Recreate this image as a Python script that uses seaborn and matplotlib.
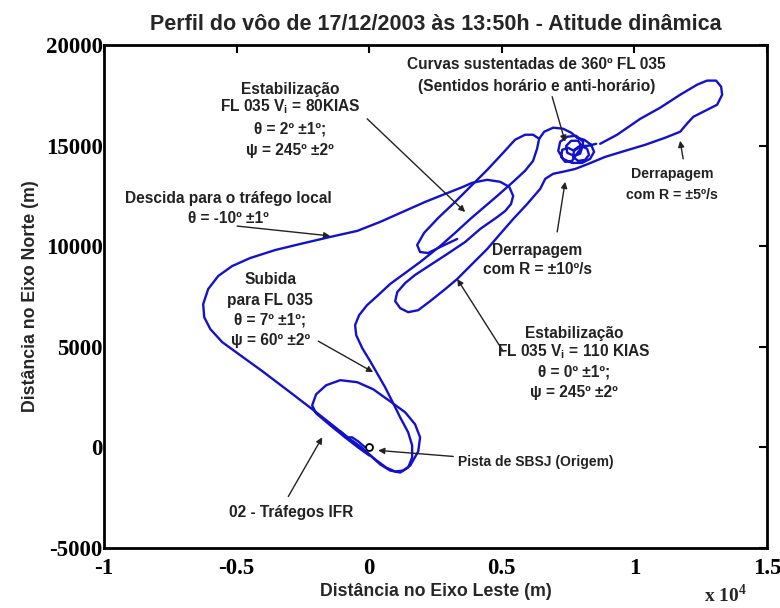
import matplotlib
matplotlib.use("Agg")
import matplotlib.pyplot as plt
import numpy as np
import pandas as pd
import seaborn as sns

# ---------------- data (metres, East / North) ----------------
# takeoff, climb to FL035 and arrival at the 360-degree turns area
subida_e = [-1090, -720, -340, 40, 420, 790, 1170, 1470, 1620, 1620, 1470, 1170, 870, 600, 340, 40,
            -260, -490, -530, -380, -80, 300, 790, 1360, 1920, 2680, 3240, 3810, 4340, 4830, 5430,
            5880, 6180, 6330, 6410, 6600, 6940, 7310, 7620, 7840]
subida_n = [800, 400, 50, -400, -850, -1150, -1250, -1000, -500, 100, 750, 1490, 2290, 2990, 3590,
            4280, 4930, 5580, 6080, 6570, 7070, 7520, 8120, 8670, 9210, 10010, 10660, 11350, 11950,
            12500, 13200, 13750, 14240, 14840, 15340, 15690, 15890, 15840, 15640, 15390]

# sustained 360-degree turns (clockwise and anticlockwise)
curvas_e = [7840, 8110, 8370, 8480, 8330, 8030, 7650, 7310, 7130, 7200, 7470, 7800, 8070, 8030, 7950,
            7730, 7470, 7430, 7620, 7880, 8030, 7770, 7650, 7390, 7240, 7280, 7500, 7730, 7990, 8220,
            8290, 8140, 7880, 7690, 7730, 7950, 8260, 8560]
curvas_n = [15390, 15290, 15040, 14690, 14340, 14140, 14140, 14340, 14740, 15190, 15440, 15490, 15190,
            14890, 14590, 14490, 14640, 14990, 15240, 15240, 14940, 14490, 14240, 14190, 14440, 14790,
            14890, 14740, 14990, 14840, 14540, 14290, 14240, 14440, 14790, 14990, 14990, 15090]

# sideslips, 110 KIAS stabilisation, descent and IFR traffic pattern
retorno_e = [8710, 9350, 10220, 10970, 11730, 12370, 12740, 13080, 13270, 13310, 13120, 12670, 12220,
             11950, 11730, 11160, 10410, 9650, 8900, 8260, 7770, 7310, 6940, 6640, 6450, 5960, 5430,
             4940, 4450, 3880, 3320, 2870, 2300, 1850, 1470, 1170, 980, 1060, 1360, 1730, 2300, 2940,
             3620, 4190, 4830, 5130, 5350, 5430, 5280, 4940, 4450, 3880, 3540, 2870, 2110, 1170, 420,
             -450, -1470, -2600, -3540, -4490, -5170, -5690, -6070, -6260, -6220, -5990, -5540, -4860,
             -4030, -2980, -2040, -1280, -720, -260, 230, 640, 980, 1280, 1550, 1850, 1920, 1730, 1360,
             790, 150, -450, -1090, -1620, -2000, -2150, -2000, -1470, -910, -420, 0]
retorno_n = [15090, 15540, 16330, 16880, 17530, 18030, 18230, 18230, 17930, 17530, 17030, 16730, 16430,
             16040, 15690, 15390, 15040, 14740, 14440, 14090, 13840, 13700, 13600, 13350, 12850, 12100,
             11350, 10610, 9860, 9110, 8370, 7870, 7270, 6820, 6720, 6920, 7270, 7720, 8170, 8570, 9060,
             9610, 10210, 10860, 11450, 11750, 12100, 12500, 12950, 13200, 13300, 13150, 12950, 12600,
             12200, 11650, 11210, 10760, 10460, 10110, 9810, 9410, 9010, 8520, 7870, 7120, 6470, 5880,
             5230, 4580, 3790, 2740, 1790, 1000, 400, -50, -600, -1000, -1200, -1150, -900, -200, 500,
             1150, 1740, 2290, 2890, 3240, 3340, 3090, 2640, 2090, 1690, 1100, 500, 0, -400]

# 80 KIAS stabilisation leg
estab80_e = [6410, 6180, 5880, 5500, 5050, 4450, 3810, 3240, 2600, 2070, 1810, 1920, 2220, 2680, 3320]
estab80_n = [15340, 15540, 15540, 15290, 14640, 13790, 12950, 12200, 11400, 10660, 10060, 9710, 9660,
             9960, 10360]

# runway roll
pista_e = [-905, -641, -415, -151]
pista_n = [498, 498, 299, 0]

origem_e = [0]
origem_n = [0]

x_ticks = [-10000, -5000, 0, 5000, 10000, 15000]
x_tick_labels = ["-1", "-0.5", "0", "0.5", "1", "1.5"]
y_ticks = [-5000, 0, 5000, 10000, 15000, 20000]
y_tick_labels = ["-5000", "0", "5000", "10000", "15000", "20000"]

segments = {
    "subida": (subida_e, subida_n),
    "curvas": (curvas_e, curvas_n),
    "retorno": (retorno_e, retorno_n),
    "estab80": (estab80_e, estab80_n),
    "pista": (pista_e, pista_n),
}
frames = []
for name, (e, n) in segments.items():
    frames.append(pd.DataFrame({"leste": e, "norte": n, "trecho": name,
                                "ordem": np.arange(len(e))}))
df = pd.concat(frames, ignore_index=True)

# ---------------- style ----------------
sns.set_style("white")
plt.rcParams["font.family"] = ["Liberation Sans", "DejaVu Sans"]

fig = plt.figure(figsize=(7.8, 6.08), dpi=100)
ax = fig.add_axes([0.1333, 0.0987, 0.8500, 0.8273])

LINE = "#1212cc"
sns.lineplot(data=df, x="leste", y="norte", units="trecho", estimator=None, sort=False,
             color=LINE, linewidth=1.7, ax=ax, legend=False)
ax.plot(origem_e, origem_n, marker="o", markersize=5, markerfacecolor="none",
        markeredgecolor="black", markeredgewidth=1.3, linestyle="none")

ax.set_xlim(-10000, 15000)
ax.set_ylim(-5000, 20000)
ax.set_xticks(x_ticks)
ax.set_xticklabels(x_tick_labels)
ax.set_yticks(y_ticks)
ax.set_yticklabels(y_tick_labels)
ax.tick_params(direction="in", top=True, right=True, length=6, width=1.5, labelsize=16.5,
               colors="black")
ax.tick_params(axis="x", pad=7)
ax.tick_params(axis="y", pad=1)
for lbl in ax.get_xticklabels() + ax.get_yticklabels():
    lbl.set_fontfamily("Liberation Serif")
    lbl.set_fontweight("bold")
for sp in ax.spines.values():
    sp.set_visible(True)
    sp.set_color("black")
    sp.set_linewidth(2)

ax.set_xlabel("Distância no Eixo Leste (m)", fontsize=12.8, fontweight="bold", labelpad=3)
ax.set_ylabel("Distância no Eixo Norte (m)", fontsize=12.8, fontweight="bold", labelpad=5)
ax.set_title("Perfil do vôo de 17/12/2003 às 13:50h - Atitude dinâmica", fontsize=15.5,
             fontweight="bold", pad=11)
fig.text(0.93, 0.003, r"x 10$^{\mathregular{4}}$", fontsize=14, fontweight="bold",
         family="Liberation Serif", ha="center", va="bottom")

BIG = 11.2
TXT = dict(fontsize=BIG, fontweight="bold", color="#222222", ha="center", va="center")
ARW = dict(arrowstyle="-|>", color="#222222", lw=1.0, mutation_scale=9, shrinkA=0, shrinkB=0)

def txt(x, y, s, **kw):
    d = dict(TXT)
    d.update(kw)
    ax.text(x, y - 150, s, **d)

def arrow(x0, y0, x1, y1):
    ax.annotate("", xy=(x1, y1), xytext=(x0, y0), arrowprops=ARW)

# 360 turns
txt(6300, 19170, "Curvas sustentadas de 360º FL 035")
txt(6300, 18080, "(Sentidos horário e anti-horário)")
arrow(6900, 17430, 7390, 15190)

# 80 KIAS
txt(-2980, 17930, "Estabilização")
txt(-2980, 17080, r"FL 035 V$_{\mathregular{i}}$ = 80KIAS")
txt(-2980, 15990, "θ = 2º ±1º;")
txt(-2980, 14890, "ψ = 245º ±2º")
arrow(-75, 16330, 3620, 11700)

# descent
txt(-5320, 12500, "Descida para o tráfego local")
txt(-5320, 11550, "θ = -10º ±1º")
arrow(-4980, 11000, -1470, 10510)

# climb
txt(-3730, 8470, "Subida")
txt(-3730, 7470, "para FL 035")
txt(-3730, 6470, "θ = 7º ±1º;")
txt(-3730, 5480, "ψ = 60º ±2º")
arrow(-1920, 5280, 150, 3740)

# sideslip 5
txt(11420, 13750, "Derrapagem", fontsize=10.2)
txt(11420, 12700, "com R = ±5º/s", fontsize=10.2)
arrow(11840, 14340, 11725, 15240)

# sideslip 10
txt(6330, 9960, "Derrapagem")
txt(6330, 9010, "com R = ±10º/s")
arrow(7090, 10710, 7390, 13200)

# 110 KIAS
txt(7730, 5830, "Estabilização")
txt(7730, 4930, r"FL 035 V$_{\mathregular{i}}$ = 110 KIAS")
txt(7730, 3880, "θ = 0º ±1º;")
txt(7730, 2890, "ψ = 245º ±2º")
arrow(5050, 4780, 3320, 8370)

# runway
txt(3360, -600, "Pista de SBSJ (Origem)", ha="left", fontsize=10)
arrow(3170, -450, 340, -150)

# IFR
txt(-2940, -3090, "02 - Tráfegos IFR")
arrow(-3050, -2440, -1770, 500)

fig.savefig("out.png", dpi=100)
